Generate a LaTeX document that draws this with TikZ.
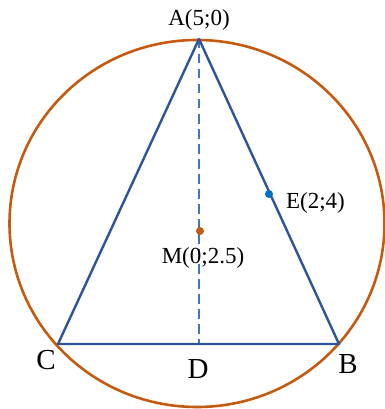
\documentclass[tikz,border=0pt]{standalone}
\usepackage{fontspec}
\setmainfont{Liberation Serif}

\definecolor{triblue}{HTML}{2F5597}
\definecolor{medblue}{HTML}{4472C4}
\definecolor{circorange}{HTML}{C55A11}
\definecolor{dotblue}{HTML}{0070C0}

\begin{document}
\begin{tikzpicture}[x=1pt,y=-1pt,
    side/.style={draw=triblue,line width=2.4pt,line join=round},
    median/.style={draw=medblue,line width=2.4pt,dash pattern=on 9.5pt off 5.5pt},
    circ/.style={draw=circorange,line width=2.6pt},
    coordlabel/.style={anchor=base,inner sep=0pt,font=\fontsize{23}{26}\selectfont},
    vertlabel/.style={anchor=base,inner sep=0pt,font=\fontsize{29}{32}\selectfont}]

    \useasboundingbox (0,0) rectangle (384,409);

    \coordinate (A) at (199,39);
    \coordinate (B) at (339,344);
    \coordinate (C) at (58,344);
    \coordinate (D) at (199,344);
    \coordinate (O) at (197,223.5);
    \coordinate (M) at (200,231);
    \coordinate (E) at (269,194);

    \draw[circ] (O) circle[x radius=187.5pt,y radius=183.5pt];

    \draw[median] (A) -- (D);
    \draw[side] (A) -- (B) -- (C) -- cycle;

    \fill[circorange] (M) circle[radius=4pt];
    \fill[dotblue] (E) circle[radius=4pt];

    \node[coordlabel] (labA) at (199,26) {A(5;0)};
    \node[coordlabel] (labE) at (315.5,208) {E(2;4)};
    \node[coordlabel] (labM) at (203,263) {M(0;2.5)};
    \node[vertlabel] (labC) at (46,369) {C};
    \node[vertlabel] (labD) at (198,378) {D};
    \node[vertlabel] (labB) at (348,373) {B};

\end{tikzpicture}
\end{document}
